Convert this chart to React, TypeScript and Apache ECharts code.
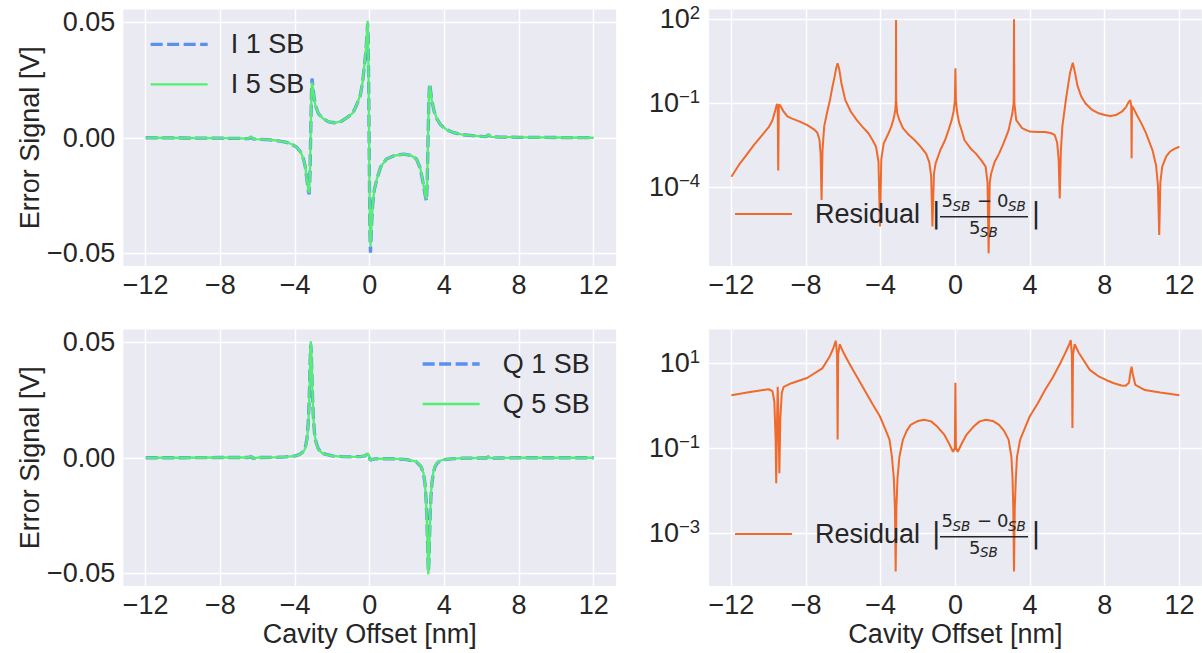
import React, { useEffect, useRef } from 'react';
import * as echarts from 'echarts';

// ---------------- data ----------------
const xTickValues = [-12, -8, -4, 0, 4, 8, 12];
const errorTickValues = [-0.05, 0, 0.05];
const residualTickValuesI = [1e-4, 1e-1, 1e2];
const residualTickValuesQ = [1e-3, 1e-1, 1e1];

const iOffsets = [
  -12, -10, -8, -7, -6.5, -6.35, -6.25, -6.1, -5.5, -5,
  -4.5, -4.2, -3.9, -3.7, -3.55, -3.45, -3.35, -3.28, -3.24, -3.2,
  -3.16, -3.12, -3.09, -3.04, -2.98, -2.9, -2.75, -2.5, -2.2, -1.87,
  -1.5, -1.2, -0.9, -0.7, -0.5, -0.38, -0.28, -0.2, -0.15, -0.11,
  -0.08, -0.05, -0.02, 0.01, 0.04, 0.07, 0.11, 0.16, 0.25, 0.4,
  0.6, 0.9, 1.3, 1.82, 2.2, 2.5, 2.7, 2.85, 2.95, 3.0,
  3.04, 3.08, 3.12, 3.17, 3.21, 3.26, 3.33, 3.45, 3.6, 3.8,
  4.1, 4.5, 5, 5.5, 6, 6.25, 6.35, 6.5, 7, 8, 10, 12,
];
const i1SB = [
  0, -0.0001, -0.0002, -0.0003, -0.0004, 0.0002, -0.0005, -0.0006, -0.0008, -0.0012,
  -0.0019, -0.0027, -0.0042, -0.0062, -0.0092, -0.0126, -0.019, -0.0235, -0.0245, -0.016,
  0.002, 0.019, 0.0257, 0.022, 0.0175, 0.0138, 0.0105, 0.0083, 0.0069, 0.0065,
  0.0072, 0.0088, 0.0108, 0.0142, 0.0185, 0.024, 0.0315, 0.038, 0.044, 0.0495,
  0.044, 0.02, -0.012, -0.04, -0.0498, -0.044, -0.036, -0.029, -0.0225, -0.0175,
  -0.0125, -0.0092, -0.0078, -0.0071, -0.0076, -0.0092, -0.013, -0.019, -0.024, -0.026,
  -0.0273, -0.02, -0.003, 0.017, 0.0235, 0.0205, 0.016, 0.0115, 0.0082, 0.0056,
  0.0036, 0.0022, 0.0013, 0.0009, 0.0006, 0.0005, 0.0012, 0.0004, 0.0003, 0.0002, 0.0001, 0,
];
const i5SB = [
  0, -0.0001, -0.0002, -0.0003, -0.0004, 0.0006, -0.0005, -0.0006, -0.0008, -0.0012,
  -0.0019, -0.0027, -0.0042, -0.0062, -0.0092, -0.0126, -0.0188, -0.0232, -0.0238, -0.015,
  0.003, 0.019, 0.024, 0.0215, 0.0173, 0.0137, 0.0105, 0.0083, 0.0069, 0.0065,
  0.0072, 0.0088, 0.0108, 0.0142, 0.0186, 0.0242, 0.0318, 0.0385, 0.045, 0.0507,
  0.043, 0.018, -0.013, -0.039, -0.0472, -0.043, -0.0355, -0.0288, -0.0224, -0.0174,
  -0.0125, -0.0092, -0.0078, -0.0071, -0.0076, -0.0092, -0.0128, -0.0188, -0.0237, -0.0258,
  -0.0265, -0.019, -0.002, 0.0168, 0.0225, 0.0203, 0.0159, 0.0115, 0.0082, 0.0056,
  0.0036, 0.0022, 0.0013, 0.0009, 0.0006, 0.0005, 0.0016, 0.0004, 0.0003, 0.0002, 0.0001, 0,
];

const qOffsets = [
  -12, -10, -8, -7, -6.5, -6.35, -6.25, -6, -5, -4.5,
  -4, -3.75, -3.6, -3.5, -3.42, -3.36, -3.3, -3.26, -3.22, -3.19,
  -3.16, -3.13, -3.1, -3.06, -3.02, -2.96, -2.88, -2.75, -2.5, -2,
  -1.5, -1, -0.5, -0.25, -0.12, -0.05, 0, 0.04, 0.1, 0.3,
  1, 1.5, 2, 2.5, 2.75, 2.88, 2.96, 3.02, 3.06, 3.1,
  3.14, 3.17, 3.2, 3.24, 3.28, 3.34, 3.42, 3.5, 3.6, 3.75,
  4, 4.5, 5, 6, 6.25, 6.35, 6.5, 7, 8, 10, 12,
];
const q1SB = [
  0, 0, 0.0001, 0.0001, 0.0001, 0.0006, -0.0004, 0.0001, 0.0002, 0.0004,
  0.0008, 0.0014, 0.0024, 0.0036, 0.0055, 0.0085, 0.014, 0.021, 0.031, 0.042,
  0.049, 0.046, 0.037, 0.026, 0.018, 0.011, 0.0068, 0.0038, 0.0018, 0.0008,
  0.0005, 0.0004, 0.0005, 0.0008, 0.0018, 0.0012, -0.0003, -0.0012, -0.0008, -0.0005,
  -0.0004, -0.0005, -0.0008, -0.0018, -0.0038, -0.0068, -0.011, -0.018, -0.026, -0.037,
  -0.0495, -0.046, -0.036, -0.025, -0.017, -0.0105, -0.0062, -0.0038, -0.0025, -0.0014,
  -0.0008, -0.0004, -0.0002, -0.0001, -0.0001, 0.0004, -0.0002, -0.0001, 0, 0, 0,
];
const q5SB = [
  0, 0, 0.0001, 0.0001, 0.0001, 0.0008, -0.0005, 0.0001, 0.0002, 0.0004,
  0.0008, 0.0013, 0.0022, 0.0033, 0.005, 0.0078, 0.013, 0.02, 0.031, 0.043,
  0.0505, 0.048, 0.039, 0.027, 0.018, 0.011, 0.0066, 0.0036, 0.0017, 0.0008,
  0.0005, 0.0004, 0.0005, 0.0008, 0.0019, 0.0013, -0.0002, -0.0011, -0.0008, -0.0005,
  -0.0004, -0.0005, -0.0008, -0.0017, -0.0036, -0.0066, -0.011, -0.019, -0.027, -0.039,
  -0.0505, -0.047, -0.037, -0.025, -0.016, -0.0098, -0.0058, -0.0035, -0.0023, -0.0013,
  -0.0008, -0.0004, -0.0002, -0.0001, -0.0001, 0.0005, -0.0002, -0.0001, 0, 0, 0,
];

const residualIOffsets = [
  -12, -11.6, -11.24, -10.8, -10.42, -10, -9.8, -9.65, -9.56, -9.52,
  -9.49, -9.46, -9.4, -9.2, -9, -8.78, -8.4, -7.95, -7.6, -7.4,
  -7.28, -7.22, -7.17, -7.12, -7.03, -6.85, -6.72, -6.6, -6.47, -6.38,
  -6.31, -6.22, -6.1, -5.9, -5.6, -5.28, -5, -4.66, -4.45, -4.25,
  -4.12, -4.04, -3.97, -3.84, -3.6, -3.43, -3.3, -3.22, -3.19, -3.18,
  -3.17, -3.12, -3, -2.81, -2.5, -2.19, -1.9, -1.57, -1.4, -1.3,
  -1.23, -1.15, -1.06, -0.8, -0.55, -0.35, -0.2, -0.1, -0.03, 0,
  0.03, 0.1, 0.2, 0.35, 0.48, 0.8, 1.1, 1.4, 1.62, 1.72,
  1.78, 1.84, 1.92, 2.1, 2.34, 2.6, 2.85, 3.05, 3.12, 3.14,
  3.16, 3.26, 3.57, 3.98, 4.4, 4.8, 5.1, 5.32, 5.45, 5.53,
  5.59, 5.65, 5.73, 5.94, 6.14, 6.29, 6.4, 6.55, 6.75, 6.96,
  7.3, 7.68, 8, 8.3, 8.6, 8.92, 9.15, 9.29, 9.37, 9.42,
  9.44, 9.46, 9.54, 9.75, 9.95, 10.2, 10.56, 10.75, 10.85, 10.92,
  10.98, 11.08, 11.3, 11.5, 11.75, 12,
];
const residualI = [
  2.4e-4, 6.3e-4, 1.3e-3, 3.2e-3, 6.5e-3, 1.4e-2, 2.5e-2, 5.6e-2, 9.5e-2, 8.0e-2,
  4.0e-4, 8.5e-2, 8.7e-2, 5.0e-2, 3.4e-2, 2.9e-2, 2.3e-2, 1.7e-2, 1.2e-2, 9.0e-3,
  5.0e-3, 1.5e-3, 3.5e-5, 2.0e-3, 1.5e-2, 5.5e-2, 0.13, 0.35, 0.9, 1.9,
  2.7, 1.6, 0.5, 0.13, 0.05, 0.025, 0.015, 8.5e-3, 5.0e-3, 2.8e-3,
  8.0e-4, 4.0e-6, 1.0e-3, 3.7e-3, 8.0e-3, 1.5e-2, 3.0e-2, 5.8e-2, 0.12, 95,
  0.12, 4.5e-2, 2.5e-2, 1.3e-2, 7.5e-3, 4.9e-3, 3.0e-3, 1.6e-3, 8.0e-4, 2.5e-4,
  4.0e-6, 3.0e-4, 7.2e-4, 2.2e-3, 4.9e-3, 1.2e-2, 2.5e-2, 5.0e-2, 0.12, 1.8,
  0.12, 4.5e-2, 2.0e-2, 1.0e-2, 4.9e-3, 2.5e-3, 1.6e-3, 9.0e-4, 5.5e-4, 1.5e-4,
  4.4e-7, 1.5e-4, 3.2e-4, 8.0e-4, 1.6e-3, 4.0e-3, 1.1e-2, 4.4e-2, 0.1, 100,
  0.1, 2.5e-2, 1.3e-2, 9.8e-3, 9.5e-3, 9.5e-3, 8.7e-3, 7.4e-3, 4.0e-3, 1.0e-3,
  4.0e-5, 2.0e-3, 1.5e-2, 0.17, 1.2, 2.8, 1.3, 0.4, 0.17, 0.1,
  6.0e-2, 4.4e-2, 3.8e-2, 3.5e-2, 3.8e-2, 5.0e-2, 7.5e-2, 0.115, 0.13, 8.0e-2,
  1.1e-3, 8.0e-2, 6.6e-2, 3.5e-2, 2.0e-2, 9.0e-3, 2.1e-3, 6.0e-4, 1.2e-4, 2.0e-6,
  1.5e-4, 5.5e-4, 1.3e-3, 1.9e-3, 2.4e-3, 2.8e-3,
];

const residualQOffsets = [
  -12, -11, -10.3, -10, -9.8, -9.7, -9.63, -9.6, -9.56, -9.52,
  -9.47, -9.43, -9.38, -9.3, -9.2, -8.78, -7.95, -7.13, -6.75, -6.55,
  -6.41, -6.34, -6.31, -6.28, -6.2, -6, -5.69, -5.3, -4.87, -4.45,
  -4.04, -3.75, -3.53, -3.4, -3.3, -3.24, -3.2, -3.16, -3.1, -3,
  -2.81, -2.6, -2.4, -2, -1.68, -1.3, -0.96, -0.6, -0.34, -0.13,
  -0.03, 0, 0.03, 0.13, 0.34, 0.6, 0.96, 1.3, 1.62, 2,
  2.34, 2.6, 2.85, 3, 3.06, 3.1, 3.14, 3.18, 3.24, 3.3,
  3.47, 3.75, 3.98, 4.4, 4.8, 5.2, 5.62, 5.9, 6.1, 6.18,
  6.24, 6.27, 6.3, 6.39, 6.6, 6.86, 7.2, 7.68, 8.1, 8.5,
  8.9, 9.12, 9.3, 9.38, 9.44, 9.5, 9.64, 10.15, 10.97, 12,
];
const residualQ = [
  1.78, 2.1, 2.35, 2.45, 2.2, 1.26, 0.16, 0.015, 0.32, 2.8,
  0.32, 0.026, 0.5, 2.0, 2.8, 3.4, 4.5, 7.6, 14, 22,
  34, 16, 0.16, 16, 28, 18, 10, 5, 2.35, 1.12,
  0.56, 0.28, 0.16, 0.063, 0.02, 4e-3, 1.26e-4, 4e-3, 0.02, 0.063,
  0.16, 0.26, 0.355, 0.44, 0.47, 0.43, 0.32, 0.21, 0.13, 0.083,
  0.1, 3.5, 0.1, 0.083, 0.13, 0.21, 0.32, 0.43, 0.47, 0.44,
  0.355, 0.26, 0.16, 0.063, 0.02, 4e-3, 1.26e-4, 4e-3, 0.02, 0.063,
  0.16, 0.32, 0.56, 1.12, 2.35, 4.5, 10, 18, 28, 35,
  16, 0.3, 16, 28, 18, 12, 7, 4.9, 4.0, 3.4,
  3.0, 2.95, 3.5, 6.3, 8.3, 5.6, 3.1, 2.35, 2.05, 1.78,
];

// ---------------- styling ----------------
const FONT = '"Liberation Sans", Arial, Helvetica, sans-serif';
const MATH = '"DejaVu Sans", sans-serif';
const INK = '#262626';
const PANEL = '#EAEAF2';
const BLUE = '#5b8ff0';
const GREEN = '#53ee72';
const ORANGE = '#ef6a2b';
const FS = 27;

const GW = 492.8;
const GH = 256.5;
const LEFT_A = 123.3;
const LEFT_B = 709;
const TOP_A = 9.5;
const TOP_B = 329.5;

const pairs = (xs: number[], ys: number[]) => xs.map((x, i) => [x, ys[i]]);
const signed = (v: number) => (v < 0 ? '\u2212' + Math.abs(v) : String(v));
const errLabel = (v: number) => (v < -1e-9 ? '\u2212' : '') + Math.abs(v).toFixed(2);
const powLabel = (v: number) => {
  const e = Math.round(Math.log10(v));
  return `{b|10}{e|${e < 0 ? '\u2212' : ''}${Math.abs(e)}}`;
};

const splitLine = { show: true, lineStyle: { color: '#ffffff', width: 1.4 } };
const labelBase = { color: INK, fontSize: FS, fontFamily: FONT };

function xAxis(gridIndex: number, named: boolean) {
  return {
    type: 'value',
    gridIndex,
    min: -13.2,
    max: 13.2,
    axisLine: { show: false },
    axisTick: { show: false, customValues: xTickValues },
    axisLabel: { ...labelBase, customValues: xTickValues, margin: 5, formatter: signed },
    splitLine,
    name: named ? 'Cavity Offset [nm]' : '',
    nameLocation: 'middle',
    nameGap: 34,
    nameTextStyle: { ...labelBase },
  };
}

function errAxis(gridIndex: number) {
  return {
    type: 'value',
    gridIndex,
    min: -0.0556,
    max: 0.0556,
    axisLine: { show: false },
    axisTick: { show: false, customValues: errorTickValues },
    axisLabel: { ...labelBase, customValues: errorTickValues, margin: 8, formatter: errLabel },
    splitLine,
    name: 'Error Signal [V]',
    nameLocation: 'middle',
    nameGap: 80,
    nameTextStyle: { ...labelBase },
  };
}

function logAxis(gridIndex: number, lo: number, hi: number, ticks: number[]) {
  return {
    type: 'log',
    logBase: 10,
    gridIndex,
    min: Math.pow(10, lo),
    max: Math.pow(10, hi),
    axisLine: { show: false },
    axisTick: { show: false, customValues: ticks },
    minorTick: { show: false },
    minorSplitLine: { show: false },
    axisLabel: {
      customValues: ticks,
      margin: 9,
      formatter: powLabel,
      rich: {
        b: { ...labelBase },
        e: { color: INK, fontSize: 18.5, fontFamily: FONT, padding: [0, 0, 14, 0] },
      },
    },
    splitLine,
  };
}

function legend(left: number, top: number, names: string[], styles: any[]) {
  return {
    show: true,
    orient: 'vertical',
    left,
    top,
    padding: 0,
    itemGap: 10,
    itemWidth: 57,
    itemHeight: 30,
    selectedMode: false,
    itemStyle: { opacity: 0 },
    data: names.map((n, i) => ({ name: n, lineStyle: styles[i] })),
    textStyle: { ...labelBase, lineHeight: 30, padding: [0, 0, 0, 18] },
  };
}

function fraction(dy: number) {
  const t = (text: string, x: number, y: number, size: number, align: string, italic = false) => ({
    type: 'text',
    x,
    y: y + dy,
    z: 100,
    silent: true,
    style: {
      text,
      fill: INK,
      fontSize: size,
      fontFamily: MATH,
      fontStyle: italic ? 'italic' : 'normal',
      align,
      textAlign: align,
      verticalAlign: 'middle',
      textVerticalAlign: 'middle',
    },
  });
  return [
    t('|', 936.3, 213.2, 28, 'center'),
    t('5', 941.5, 200.5, 18, 'left'),
    t('SB', 952.5, 205.5, 13.5, 'left', true),
    t('\u2212', 984.5, 200.5, 18, 'center'),
    t('0', 997, 200.5, 18, 'left'),
    t('SB', 1008, 205.5, 13.5, 'left', true),
    {
      type: 'line',
      z: 100,
      silent: true,
      shape: { x1: 940, y1: 216.7 + dy, x2: 1028, y2: 216.7 + dy },
      style: { stroke: INK, lineWidth: 1.6 },
    },
    t('5', 969, 227.1, 18, 'left'),
    t('SB', 980, 232.2, 13.5, 'left', true),
    t('|', 1036, 213.2, 28, 'center'),
  ];
}

const blueStyle = { color: BLUE, width: 3.3, type: [12, 4.5] };
const greenStyle = { color: GREEN, width: 2.3, type: 'solid' };
const orangeStyle = { color: ORANGE, width: 2, type: 'solid' };

function line(name: string, idx: number, data: number[][], style: any, z: number) {
  return {
    type: 'line',
    name,
    xAxisIndex: idx,
    yAxisIndex: idx,
    data,
    showSymbol: false,
    symbol: 'none',
    smooth: false,
    lineStyle: style,
    itemStyle: { color: style.color },
    emphasis: { disabled: true },
    z,
  };
}

export default function App() {
  const ref = useRef<HTMLDivElement>(null);
  useEffect(() => {
    if (!ref.current) return;
    const chart = echarts.init(ref.current, null, { renderer: 'svg' });
    const gridBase = { show: true, backgroundColor: PANEL, borderWidth: 0, containLabel: false, outerBoundsMode: 'none' };
    chart.setOption({
      animation: false,
      backgroundColor: '#ffffff',
      grid: [
        { ...gridBase, left: LEFT_A, top: TOP_A, width: GW, height: GH },
        { ...gridBase, left: LEFT_B, top: TOP_A, width: GW, height: GH },
        { ...gridBase, left: LEFT_A, top: TOP_B, width: GW, height: GH },
        { ...gridBase, left: LEFT_B, top: TOP_B, width: GW, height: GH },
      ],
      xAxis: [xAxis(0, false), xAxis(1, false), xAxis(2, true), xAxis(3, true)],
      yAxis: [
        errAxis(0),
        logAxis(1, -6.81, 2.35, residualTickValuesI),
        errAxis(2),
        logAxis(3, -4.24, 1.795, residualTickValuesQ),
      ],
      legend: [
        legend(149, 29.3, ['I 1 SB', 'I 5 SB'], [blueStyle, greenStyle]),
        legend(421, 349, ['Q 1 SB', 'Q 5 SB'], [blueStyle, greenStyle]),
        legend(734, 199, ['Residual'], [orangeStyle]),
        legend(734, 519, ['Residual'], [orangeStyle]),
      ],
      graphic: { elements: [...fraction(0), ...fraction(320)] },
      series: [
        line('I 1 SB', 0, pairs(iOffsets, i1SB), blueStyle, 2),
        line('I 5 SB', 0, pairs(iOffsets, i5SB), greenStyle, 3),
        line('Residual', 1, pairs(residualIOffsets, residualI), orangeStyle, 2),
        line('Q 1 SB', 2, pairs(qOffsets, q1SB), blueStyle, 2),
        line('Q 5 SB', 2, pairs(qOffsets, q5SB), greenStyle, 3),
        line('Residual', 3, pairs(residualQOffsets, residualQ), orangeStyle, 2),
      ],
    });
    return () => chart.dispose();
  }, []);
  return <div ref={ref} style={{ position: 'fixed', left: 0, top: 0, width: 1202, height: 653 }} />;
}
